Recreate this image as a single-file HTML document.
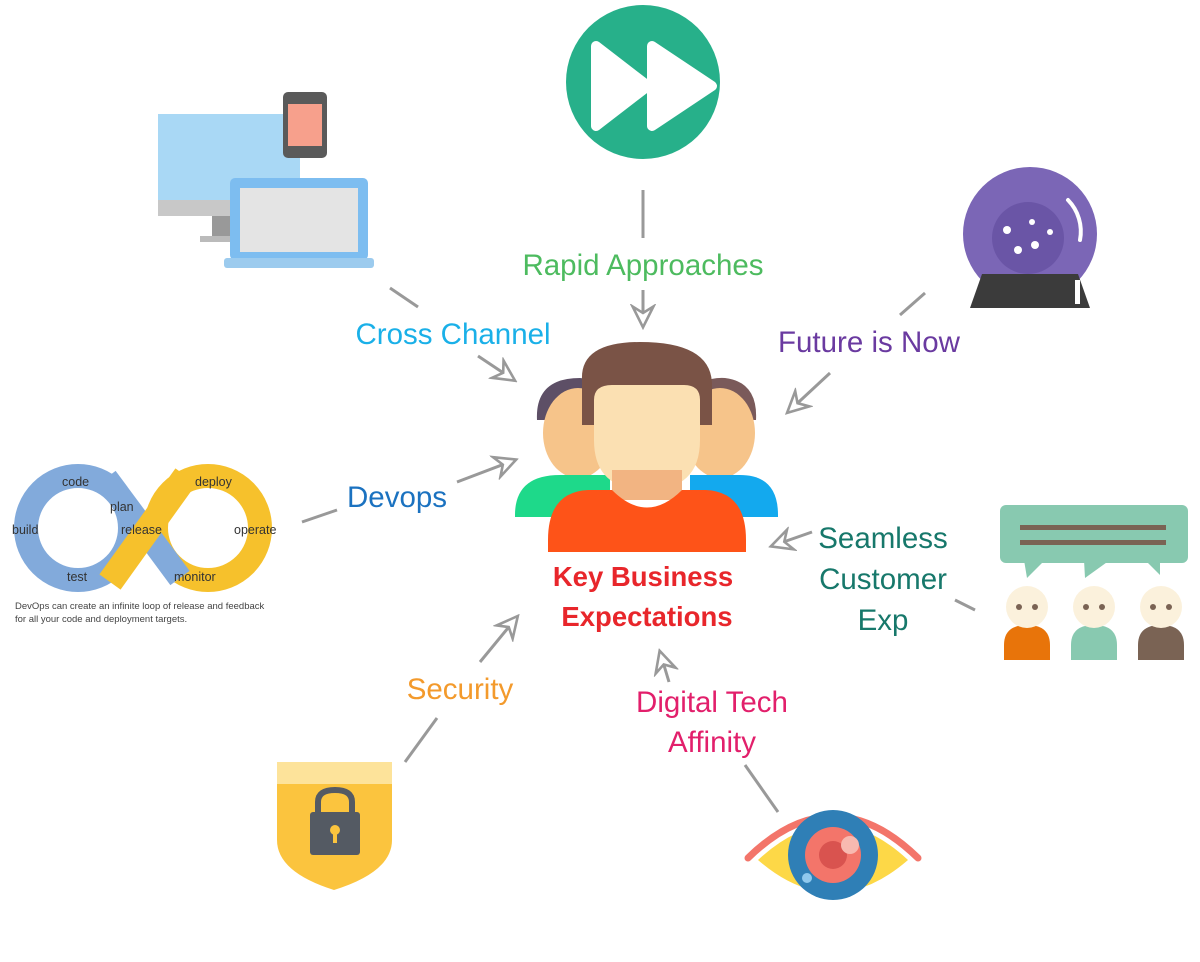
<!DOCTYPE html>
<html><head><meta charset="utf-8"><style>
html,body{margin:0;padding:0;background:#fff;}
svg{display:block;}
text{font-family:"Liberation Sans",sans-serif;}
</style></head><body>
<svg width="1200" height="962" viewBox="0 0 1200 962" xmlns="http://www.w3.org/2000/svg">
<defs>
<marker id="ah" viewBox="0 0 20 20" refX="17" refY="10" markerWidth="26" markerHeight="26" markerUnits="userSpaceOnUse" orient="auto">
<path d="M2,2 L18,10 L2,18 L7,10 Z" fill="#fff" stroke="#999" stroke-width="2" stroke-linejoin="miter"/>
</marker>
</defs>

<!-- connectors -->
<g stroke="#999" stroke-width="3" fill="none">
<line x1="643" y1="190" x2="643" y2="238"/>
<line x1="643" y1="290" x2="643" y2="326" marker-end="url(#ah)"/>
<line x1="390" y1="288" x2="418" y2="307"/>
<line x1="478" y1="356" x2="514" y2="380" marker-end="url(#ah)"/>
<line x1="925" y1="293" x2="900" y2="315"/>
<line x1="830" y1="373" x2="788" y2="412" marker-end="url(#ah)"/>
<line x1="302" y1="522" x2="337" y2="510"/>
<line x1="457" y1="482" x2="515" y2="460" marker-end="url(#ah)"/>
<line x1="975" y1="610" x2="955" y2="600"/>
<line x1="812" y1="532" x2="772" y2="546" marker-end="url(#ah)"/>
<line x1="405" y1="762" x2="437" y2="718"/>
<line x1="480" y1="662" x2="517" y2="617" marker-end="url(#ah)"/>
<line x1="778" y1="812" x2="745" y2="765"/>
<line x1="669" y1="682" x2="660" y2="652" marker-end="url(#ah)"/>
</g>

<!-- rapid -->
<circle cx="643" cy="82" r="77" fill="#27b08a"/>
<path d="M596,46 L648,86 L596,126 Z M652,46 L712,86 L652,126 Z" fill="#fff" stroke="#fff" stroke-width="10" stroke-linejoin="round"/>

<!-- computer -->
<rect x="158" y="114" width="142" height="92" fill="#a9d8f5"/>
<rect x="158" y="200" width="142" height="16" fill="#c8c8c8"/>
<rect x="212" y="216" width="22" height="22" fill="#999"/>
<rect x="200" y="236" width="46" height="6" fill="#bbb"/>
<rect x="283" y="92" width="44" height="66" rx="5" fill="#5a5a5a"/>
<rect x="288" y="104" width="34" height="42" fill="#f7a08c"/>
<rect x="230" y="178" width="138" height="82" rx="5" fill="#7dbdf0"/>
<rect x="240" y="188" width="118" height="64" fill="#e4e4e4"/>
<rect x="224" y="258" width="150" height="10" rx="3" fill="#9ccbee"/>

<!-- crystal ball -->
<circle cx="1030" cy="234" r="67" fill="#7b66b6"/>
<circle cx="1028" cy="238" r="36" fill="#6a55a6"/>
<circle cx="1007" cy="230" r="4" fill="#fff"/><circle cx="1035" cy="245" r="4" fill="#fff"/><circle cx="1018" cy="250" r="4" fill="#fff"/><circle cx="1032" cy="222" r="3" fill="#fff"/><circle cx="1050" cy="232" r="3" fill="#fff"/>
<path d="M1068,200 A45,45 0 0 1 1080,240" stroke="#fff" stroke-width="4" fill="none" stroke-linecap="round"/>
<path d="M982,274 L1078,274 L1090,308 L970,308 Z" fill="#3b3b3b"/>
<rect x="1075" y="280" width="5" height="24" fill="#fff"/>

<!-- devops -->
<g>
<circle cx="78" cy="528" r="52" fill="none" stroke="#82aadb" stroke-width="24"/>
<circle cx="208" cy="528" r="52" fill="none" stroke="#f6c12c" stroke-width="24"/>
<path d="M106,478 L180,578" stroke="#82aadb" stroke-width="24"/>
<path d="M110,582 L186,476" stroke="#f6c12c" stroke-width="26"/>
<g font-size="12.5" fill="#333">
<text x="62" y="486">code</text><text x="110" y="511">plan</text><text x="121" y="534">release</text>
<text x="12" y="534">build</text><text x="67" y="581">test</text>
<text x="195" y="486">deploy</text><text x="234" y="534">operate</text><text x="174" y="581">monitor</text>
</g>
<text x="15" y="609" font-size="9.5" fill="#444">DevOps can create an infinite loop of release and feedback</text>
<text x="15" y="622" font-size="9.5" fill="#444">for all your code and deployment targets.</text>
</g>

<!-- center people -->
<g>
<path d="M537,420 Q535,378 580,378 Q610,380 612,420 Z" fill="#5d4f66"/>
<path d="M688,420 Q688,376 725,378 Q758,382 756,420 Z" fill="#7a5a5a"/>
<ellipse cx="578" cy="433" rx="35" ry="45" fill="#f6c48a"/>
<ellipse cx="720" cy="433" rx="35" ry="45" fill="#f6c48a"/>
<path d="M515,515 Q515,475 560,475 L610,475 L610,517 L515,517 Z" fill="#1ed98a"/>
<path d="M690,475 L740,475 Q778,475 778,515 L778,517 L690,517 Z" fill="#13a9ee"/>
<path d="M582,380 Q580,342 640,342 Q712,342 712,385 L712,425 L582,425 Z" fill="#7a5346"/>
<path d="M594,400 Q594,385 612,385 L684,385 Q700,385 700,400 L700,440 Q700,490 647,490 Q594,490 594,440 Z" fill="#fbe0b2"/>
<rect x="612" y="470" width="70" height="30" fill="#f2b482"/>
<path d="M548,540 Q548,492 588,490 L612,490 Q647,525 682,490 L706,490 Q746,492 746,540 L746,552 L548,552 Z" fill="#fe5318"/>
</g>

<!-- speech people -->
<rect x="1000" y="505" width="188" height="58" rx="6" fill="#88c9b0"/>
<path d="M1024,560 L1027,578 L1045,560 Z M1084,560 L1085,578 L1110,560 Z M1145,560 L1160,575 L1160,560 Z" fill="#88c9b0"/>
<rect x="1020" y="525" width="146" height="5" fill="#7a6354"/>
<rect x="1020" y="540" width="146" height="5" fill="#7a6354"/>
<g>
<path d="M1004,660 L1004,645 Q1004,625 1027,625 Q1050,625 1050,645 L1050,660 Z" fill="#e8740a"/>
<path d="M1071,660 L1071,645 Q1071,625 1094,625 Q1117,625 1117,645 L1117,660 Z" fill="#88c9b0"/>
<path d="M1138,660 L1138,645 Q1138,625 1161,625 Q1184,625 1184,645 L1184,660 Z" fill="#7a6354"/>
<circle cx="1027" cy="607" r="21" fill="#fbf1dc"/><circle cx="1094" cy="607" r="21" fill="#fbf1dc"/><circle cx="1161" cy="607" r="21" fill="#fbf1dc"/>
<g fill="#7a6354"><circle cx="1019" cy="607" r="3"/><circle cx="1035" cy="607" r="3"/><circle cx="1086" cy="607" r="3"/><circle cx="1102" cy="607" r="3"/><circle cx="1153" cy="607" r="3"/><circle cx="1169" cy="607" r="3"/></g>
</g>

<!-- shield -->
<path d="M277,762 L392,762 L392,840 Q392,872 334,890 Q277,872 277,840 Z" fill="#fbc43e"/>
<rect x="277" y="762" width="115" height="22" fill="#fde39a"/>
<path d="M318,812 L318,802 Q318,790 335,790 Q352,790 352,802 L352,812" fill="none" stroke="#545a63" stroke-width="6"/>
<rect x="310" y="812" width="50" height="43" rx="3" fill="#545a63"/>
<circle cx="335" cy="830" r="5" fill="#fbc43e"/><rect x="333" y="831" width="4" height="12" fill="#fbc43e"/>

<!-- eye -->
<path d="M748,858 Q833,775 918,858" fill="none" stroke="#f3756a" stroke-width="7" stroke-linecap="round"/>
<path d="M758,860 Q833,790 908,860 Q833,925 758,860 Z" fill="#fdd847"/>
<circle cx="833" cy="855" r="45" fill="#2f7fb6"/>
<circle cx="833" cy="855" r="28" fill="#f3756a"/>
<circle cx="833" cy="855" r="14" fill="#d9534f"/>
<circle cx="850" cy="845" r="9" fill="#f8b9b0"/>
<circle cx="807" cy="878" r="5" fill="#8fc9ee"/>

<!-- labels -->
<g font-size="29.5" text-anchor="middle">
<text x="643" y="275" fill="#4dbb5f">Rapid Approaches</text>
<text x="453" y="344" fill="#1ab0e8">Cross Channel</text>
<text x="869" y="352" fill="#6a3aa0">Future is Now</text>
<text x="397" y="507" fill="#1b72c0">Devops</text>
<text x="883" y="548" fill="#17786b">Seamless</text>
<text x="883" y="589" fill="#17786b">Customer</text>
<text x="883" y="630" fill="#17786b">Exp</text>
<text x="460" y="699" fill="#f39a2c">Security</text>
<text x="712" y="712" fill="#e21f6b">Digital Tech</text>
<text x="712" y="752" fill="#e21f6b">Affinity</text>
</g>
<g font-size="27.5" font-weight="bold" text-anchor="middle" fill="#e8262b">
<text x="643" y="586">Key Business</text>
<text x="647" y="626">Expectations</text>
</g>
</svg>
</body></html>
